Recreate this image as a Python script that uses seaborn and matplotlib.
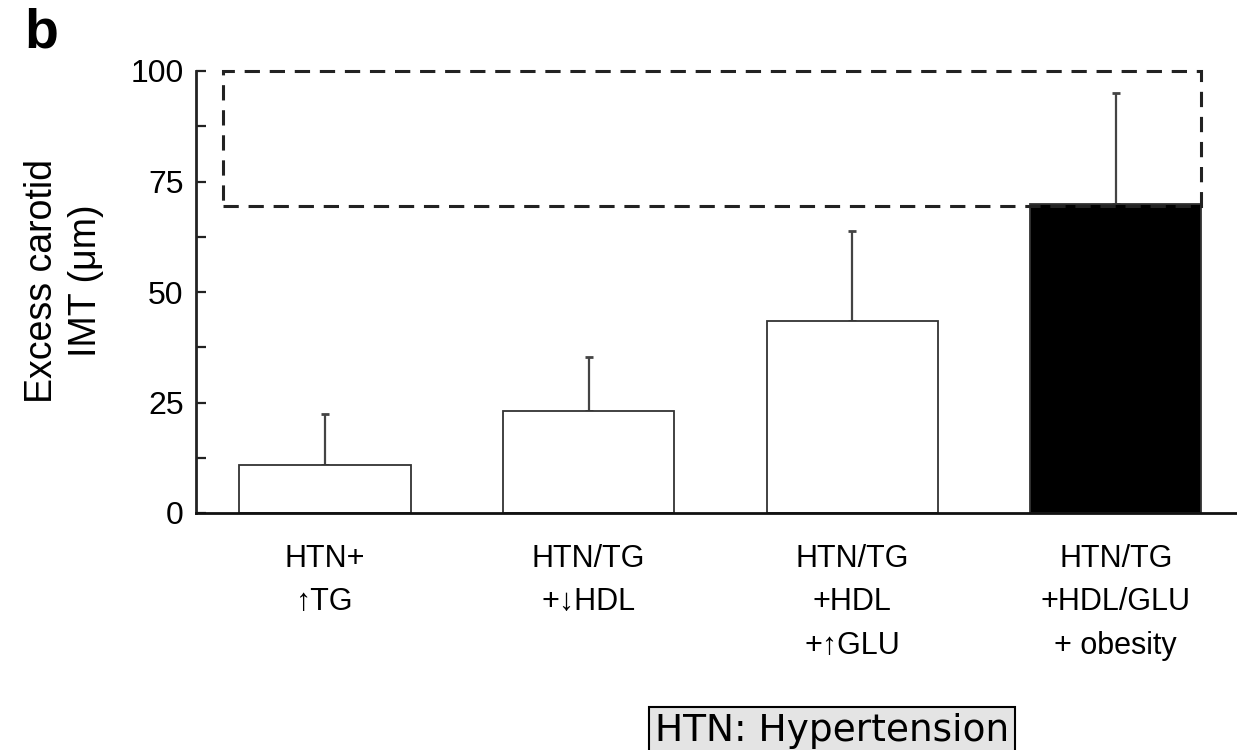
import matplotlib
matplotlib.use("Agg")
import matplotlib.pyplot as plt
import seaborn as sns
import pandas as pd
import numpy as np
from matplotlib.patches import Rectangle
from matplotlib.ticker import MultipleLocator

# ---- data ----
categories = ["HTN+\n\u2191TG", "HTN/TG\n+\u2193HDL", "HTN/TG\n+HDL\n+\u2191GLU", "HTN/TG\n+HDL/GLU\n+ obesity"]
values = [10.9, 23.1, 43.4, 69.9]
errors = [11.5, 12.2, 20.4, 25.1]
bar_colors = ["white", "white", "white", "black"]
yticks = [0, 25, 50, 75, 100]
ylabel = "Excess carotid\nIMT (\u03bcm)"
panel_letter = "b"
footnote = "HTN: Hypertension"
box_y = (69.5, 100)

sns.set_style("white")
plt.rcParams['font.family'] = ['Liberation Sans', 'DejaVu Sans']
plt.rcParams['text.color'] = 'black'
plt.rcParams['xtick.color'] = 'black'
plt.rcParams['ytick.color'] = 'black'

fig = plt.figure(figsize=(12.37, 7.5), dpi=100)
ax = fig.add_axes([196/1237, 1-513/750, 1-196/1237, (513-71)/750])

df = pd.DataFrame({"cat": categories, "val": values})
sns.barplot(data=df, x="cat", y="val", hue="cat", palette=bar_colors, legend=False,
            width=0.65, edgecolor="#333333", linewidth=1.3, ax=ax, errorbar=None, zorder=2)

xs = np.arange(len(categories))
ax.errorbar(xs, values, yerr=[np.zeros(len(values)), errors], fmt="none",
            ecolor="#444444", elinewidth=1.6, capsize=3, capthick=2.0, zorder=1)

ax.set_xlim(-0.49, 3.46)
ax.set_ylim(0, 100)
ax.set_yticks(yticks)
ax.yaxis.set_minor_locator(MultipleLocator(12.5))
ax.tick_params(axis="y", which="both", direction="in", length=7, width=1.6, color="#222222",
               labelsize=23, pad=9, left=True, labelcolor="black")
ax.tick_params(axis="x", length=0, pad=22, labelcolor="black")
ax.set_xticks(xs)
ax.set_xticklabels(categories, fontsize=22, linespacing=1.6)
ax.set_xlabel("")
ax.set_ylabel("")
for s in ["top", "right"]:
    ax.spines[s].set_visible(False)
ax.spines["left"].set_linewidth(2.0)
ax.spines["left"].set_color("#222222")
ax.spines["bottom"].set_linewidth(2.0)
ax.spines["bottom"].set_color("#111111")

# dashed box region
lw = 2.2
rect = Rectangle((-0.387, box_y[0]), 3.325 + 0.387, box_y[1] - box_y[0], fill=False,
                 edgecolor="#222222", linewidth=lw, linestyle=(0, (5, 3.2)), clip_on=False, zorder=3)
ax.add_patch(rect)

fig.text(64/1237, 1-281/750, ylabel, rotation=90, ha="center", va="center", fontsize=27,
         multialignment="center", linespacing=1.3)
fig.text(24/1237, 1-48/750, panel_letter, fontsize=40, fontweight="bold", ha="left", va="baseline")

fig.text(832/1237, 1-741/750, footnote, fontsize=27, family="DejaVu Sans", ha="center", va="baseline",
         bbox=dict(boxstyle="square,pad=0.17", facecolor="#e4e4e4", edgecolor="black", linewidth=1.5))

fig.savefig("out.png", dpi=100)
